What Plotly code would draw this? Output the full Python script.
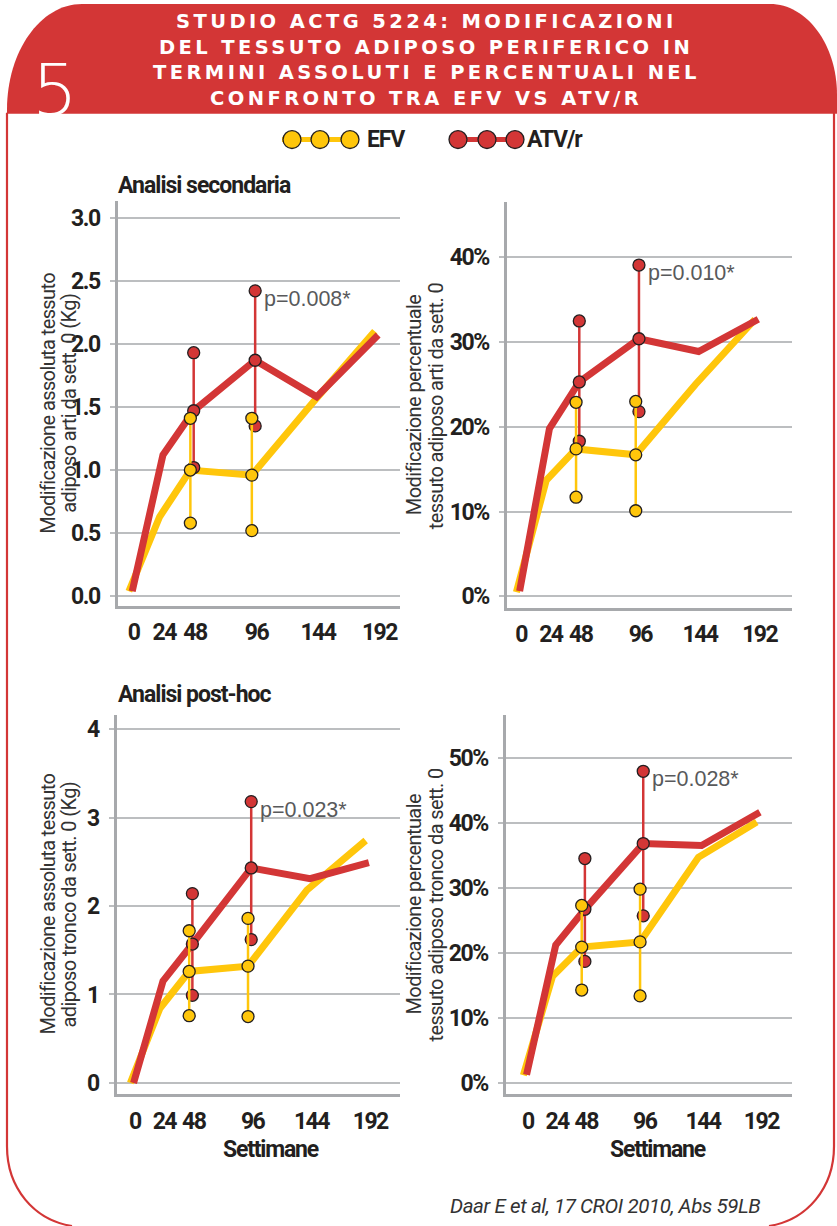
import plotly.graph_objects as go

W, H = 837, 1226

# ---------------- data ----------------
weeks = [0, 24, 48, 96, 144, 192]
err_weeks = [48, 96]

# Panel A: arti, Kg
efv_arti_kg = [0.04, 0.63, 1.00, 0.96, 1.54, 2.10]
atv_arti_kg = [0.04, 1.12, 1.47, 1.87, 1.58, 2.07]
efv_arti_kg_lo = [0.58, 0.52]
efv_arti_kg_hi = [1.41, 1.41]
atv_arti_kg_lo = [1.02, 1.35]
atv_arti_kg_hi = [1.93, 2.42]

# Panel B: arti, %
efv_arti_pct = [0.5, 13.7, 17.4, 16.7, 25.0, 32.7]
atv_arti_pct = [0.6, 19.8, 25.3, 30.4, 28.9, 32.7]
efv_arti_pct_lo = [11.7, 10.1]
efv_arti_pct_hi = [22.9, 23.0]
atv_arti_pct_lo = [18.3, 21.8]
atv_arti_pct_hi = [32.5, 39.1]

# Panel C: tronco, Kg
efv_tronco_kg = [0.0, 0.84, 1.26, 1.32, 2.18, 2.74]
atv_tronco_kg = [0.0, 1.15, 1.57, 2.43, 2.31, 2.49]
efv_tronco_kg_lo = [0.76, 0.75]
efv_tronco_kg_hi = [1.72, 1.86]
atv_tronco_kg_lo = [0.99, 1.62]
atv_tronco_kg_hi = [2.14, 3.18]

# Panel D: tronco, %
efv_tronco_pct = [1.2, 16.4, 20.9, 21.7, 34.7, 40.1]
atv_tronco_pct = [1.3, 21.2, 26.7, 36.8, 36.5, 41.6]
efv_tronco_pct_lo = [14.3, 13.4]
efv_tronco_pct_hi = [27.3, 29.8]
atv_tronco_pct_lo = [18.7, 25.7]
atv_tronco_pct_hi = [34.5, 47.9]

p_values = ["p=0.008*", "p=0.010*", "p=0.023*", "p=0.028*"]

x_tickvals = [0, 24, 48, 96, 144, 192]
x_ticktext = ["0", "24", "48", "96", "144", "192"]
yA_vals = [0, 0.5, 1.0, 1.5, 2.0, 2.5, 3.0]
yA_text = ["0.0", "0.5", "1.0", "1.5", "2.0", "2.5", "3.0"]
yB_vals = [0, 10, 20, 30, 40]
yB_text = ["0%", "10%", "20%", "30%", "40%"]
yC_vals = [0, 1, 2, 3, 4]
yC_text = ["0", "1", "2", "3", "4"]
yD_vals = [0, 10, 20, 30, 40, 50]
yD_text = ["0%", "10%", "20%", "30%", "40%", "50%"]

title_lines = ["STUDIO ACTG 5224: MODIFICAZIONI",
               "DEL TESSUTO ADIPOSO PERIFERICO IN",
               "TERMINI ASSOLUTI E PERCENTUALI NEL",
               "CONFRONTO TRA EFV VS ATV/R"]

# ---------------- style ----------------
RED = "#D33636"
YEL = "#FFC60B"
DARK = "#231F20"
GRID = "#BCBEC0"
AXIS = "#A7A9AC"
COND = "Roboto, 'Liberation Sans', sans-serif"
DODGE = 1.3


def cond(t, ls=-1.0):
    return '<span style="letter-spacing:%gpx">%s</span>' % (ls, t)


def PX(x):
    return x / W


def PY(y):
    return 1 - y / H


fig = go.Figure()

panels = [
    dict(efv=efv_arti_kg, atv=atv_arti_kg, elo=efv_arti_kg_lo, ehi=efv_arti_kg_hi,
         alo=atv_arti_kg_lo, ahi=atv_arti_kg_hi, xd=(118, 400), yd=(202, 608),
         xr=(-9.8, 210.4), yr=(-0.077, 3.129), yv=yA_vals, yt=yA_text,
         ytitle=["Modificazione assoluta tessuto", "adiposo arti da sett. 0 (Kg)"], ytx=(48, 69)),
    dict(efv=efv_arti_pct, atv=atv_arti_pct, elo=efv_arti_pct_lo, ehi=efv_arti_pct_hi,
         alo=atv_arti_pct_lo, ahi=atv_arti_pct_hi, xd=(507, 792), yd=(203, 610),
         xr=(-8.85, 220.4), yr=(-1.38, 46.5), yv=yB_vals, yt=yB_text,
         ytitle=["Modificazione percentuale", "tessuto adiposo arti da sett. 0"], ytx=(414, 436)),
    dict(efv=efv_tronco_kg, atv=atv_tronco_kg, elo=efv_tronco_kg_lo, ehi=efv_tronco_kg_hi,
         alo=atv_tronco_kg_lo, ahi=atv_tronco_kg_hi, xd=(117, 400), yd=(717, 1098),
         xr=(-12.2, 218.7), yr=(-0.13, 4.163), yv=yC_vals, yt=yC_text,
         ytitle=["Modificazione assoluta tessuto", "adiposo tronco da sett. 0 (Kg)"], ytx=(48, 69)),
    dict(efv=efv_tronco_pct, atv=atv_tronco_pct, elo=efv_tronco_pct_lo, ehi=efv_tronco_pct_hi,
         alo=atv_tronco_pct_lo, ahi=atv_tronco_pct_hi, xd=(506, 792), yd=(717, 1098),
         xr=(-15.6, 219.7), yr=(-1.73, 56.6), yv=yD_vals, yt=yD_text,
         ytitle=["Modificazione percentuale", "tessuto adiposo tronco da sett. 0"], ytx=(414, 436)),
]

annotations = []
shapes = []
layout_axes = {}

for i, p in enumerate(panels):
    n = "" if i == 0 else str(i + 1)
    xa, ya = "x" + n, "y" + n
    fig.add_trace(go.Scatter(x=[w - DODGE for w in weeks], y=p["efv"], mode="lines",
                             line=dict(color=YEL, width=7), xaxis=xa, yaxis=ya,
                             hoverinfo="skip"))
    fig.add_trace(go.Scatter(x=[w + DODGE for w in weeks], y=p["atv"], mode="lines",
                             line=dict(color=RED, width=7), xaxis=xa, yaxis=ya,
                             hoverinfo="skip"))
    for series, lo, hi, col, dd in [(p["atv"], p["alo"], p["ahi"], RED, DODGE),
                                    (p["efv"], p["elo"], p["ehi"], YEL, -DODGE)]:
        bx, by, mx, my = [], [], [], []
        for k, w in enumerate(err_weeks):
            mid = series[weeks.index(w)]
            bx += [w + dd, w + dd, None]
            by += [lo[k], hi[k], None]
            mx += [w + dd] * 3
            my += [lo[k], mid, hi[k]]
        fig.add_trace(go.Scatter(x=bx, y=by, mode="lines", line=dict(color=col, width=2.5),
                                 xaxis=xa, yaxis=ya, hoverinfo="skip"))
        fig.add_trace(go.Scatter(x=mx, y=my, mode="markers",
                                 marker=dict(color=col, size=12, line=dict(color=DARK, width=1.3)),
                                 xaxis=xa, yaxis=ya, hoverinfo="skip"))
    annotations.append(dict(x=96 + DODGE, y=p["ahi"][1], xref=xa, yref=ya, text=p_values[i],
                            showarrow=False, xanchor="left", yanchor="middle",
                            xshift=7, yshift=-8,
                            font=dict(family="'Liberation Sans', Arial, sans-serif", size=21.5,
                                      color="#58595B")))
    yc = (p["yd"][0] + p["yd"][1]) / 2
    for t, tx in zip(p["ytitle"], p["ytx"]):
        annotations.append(dict(x=PX(tx), y=PY(yc), xref="paper", yref="paper",
                                text=cond(t, -0.6), textangle=-90, showarrow=False,
                                xanchor="center", yanchor="middle",
                                font=dict(family=COND, size=20, color="#333333")))
    layout_axes["xaxis" + n] = dict(
        domain=[PX(p["xd"][0]), PX(p["xd"][1])], range=list(p["xr"]), anchor=ya,
        tickvals=x_tickvals, ticktext=[cond(t, -1.5) for t in x_ticktext],
        showgrid=False, zeroline=False,
        showline=True, linecolor=AXIS, linewidth=2.5, ticks="",
        ticklabelstandoff=4, ticklabelshift=3,
        tickfont=dict(family=COND, size=23, color=DARK, weight="bold"), fixedrange=True)
    layout_axes["yaxis" + n] = dict(
        domain=[PY(p["yd"][1]), PY(p["yd"][0])], range=list(p["yr"]), anchor=xa,
        tickvals=p["yv"], ticktext=[cond(t, -1.5) for t in p["yt"]],
        showgrid=True, gridcolor=GRID, gridwidth=1.5,
        zeroline=False, showline=True, linecolor=AXIS, linewidth=2.5,
        ticks="outside", ticklen=5, tickcolor=GRID, tickwidth=1.5, ticklabelstandoff=6,
        tickfont=dict(family=COND, size=23, color=DARK, weight="bold"), fixedrange=True)

# ---------------- header / frame ----------------
def path(cmds):
    out = []
    for c in cmds:
        if isinstance(c, str):
            out.append(c)
        else:
            out.append("%.5f,%.5f" % (PX(c[0]), PY(c[1])))
    return " ".join(out)

header = path(["M", (7, 114), "L", (7, 110), "C", (7, 52), (40, 4), (82, 4),
               "L", (770, 4), "C", (807, 4), (837, 45), (837, 95), "L", (837, 114), "Z"])
shapes.append(dict(type="path", path=header, xref="paper", yref="paper",
                   fillcolor=RED, line=dict(width=0), layer="below"))
frame_l = path(["M", (7, 113), "L", (7, 1150), "C", (7, 1192), (34, 1224), (72, 1230)])
frame_r = path(["M", (834, 113), "L", (834, 1150), "C", (834, 1192), (807, 1224), (769, 1230)])
for fp in (frame_l, frame_r):
    shapes.append(dict(type="path", path=fp, xref="paper", yref="paper",
                       line=dict(color=RED, width=2.2), layer="below"))

annotations.append(dict(x=PX(55), y=PY(90), xref="paper", yref="paper", text="5",
                        showarrow=False, xanchor="center", yanchor="middle",
                        font=dict(family="'DejaVu Sans', sans-serif", size=72, color="white", weight=300)))
for k, line in enumerate(title_lines):
    annotations.append(dict(x=PX(426), y=PY(22 + k * 25.5), xref="paper", yref="paper",
                            text='<span style="letter-spacing:3.4px">' + line + '</span>',
                            showarrow=False, xanchor="center", yanchor="middle",
                            font=dict(family="'DejaVu Sans', sans-serif", size=19.5,
                                      color="white", weight="bold")))

# ---------------- legend ----------------
legend_items = [("EFV", YEL, [292, 320, 350], 282, 358, 365),
                ("ATV/r", RED, [458, 487, 515], 450, 523, 525)]
LY = 140
for name, col, cxs, lx0, lx1, tx in legend_items:
    shapes.append(dict(type="line", xref="paper", yref="paper", x0=PX(lx0), x1=PX(lx1),
                       y0=PY(LY), y1=PY(LY), line=dict(color=col, width=5)))
    for cx in cxs:
        shapes.append(dict(type="circle", xref="paper", yref="paper",
                           x0=PX(cx - 9), x1=PX(cx + 9), y0=PY(LY + 9), y1=PY(LY - 9),
                           fillcolor=col, line=dict(color=DARK, width=1.3)))
    annotations.append(dict(x=PX(tx), y=PY(LY), xref="paper", yref="paper",
                            text="<b>" + cond(name, -1.2) + "</b>",
                            showarrow=False, xanchor="left", yanchor="middle",
                            font=dict(family=COND, size=23, color=DARK)))

# ---------------- other texts ----------------
for txt, yy in (("Analisi secondaria", 186), ("Analisi post-hoc", 697)):
    annotations.append(dict(x=PX(116), y=PY(yy), xref="paper", yref="paper",
                            text="<b>" + cond(txt, -1.0) + "</b>",
                            showarrow=False, xanchor="left", yanchor="middle",
                            font=dict(family=COND, size=23, color=DARK)))
for cx in (271, 658):
    annotations.append(dict(x=PX(cx), y=PY(1153), xref="paper", yref="paper",
                            text="<b>" + cond("Settimane", -1.2) + "</b>",
                            showarrow=False, xanchor="center", yanchor="middle",
                            font=dict(family=COND, size=23, color=DARK)))
annotations.append(dict(x=PX(762), y=PY(1210), xref="paper", yref="paper",
                        text="<i>" + cond("Daar E et al, 17 CROI 2010, Abs 59LB", -0.4) + "</i>",
                        showarrow=False, xanchor="right", yanchor="middle",
                        font=dict(family=COND, size=20.5, color="#333333")))

fig.update_layout(
    width=W, height=H, margin=dict(l=0, r=0, t=0, b=0, pad=0),
    paper_bgcolor="white", plot_bgcolor="rgba(0,0,0,0)", showlegend=False,
    annotations=annotations, shapes=shapes, **layout_axes)

fig.write_html("out.html", config={"displayModeBar": False},
               post_script="document.body.style.margin='0';")
